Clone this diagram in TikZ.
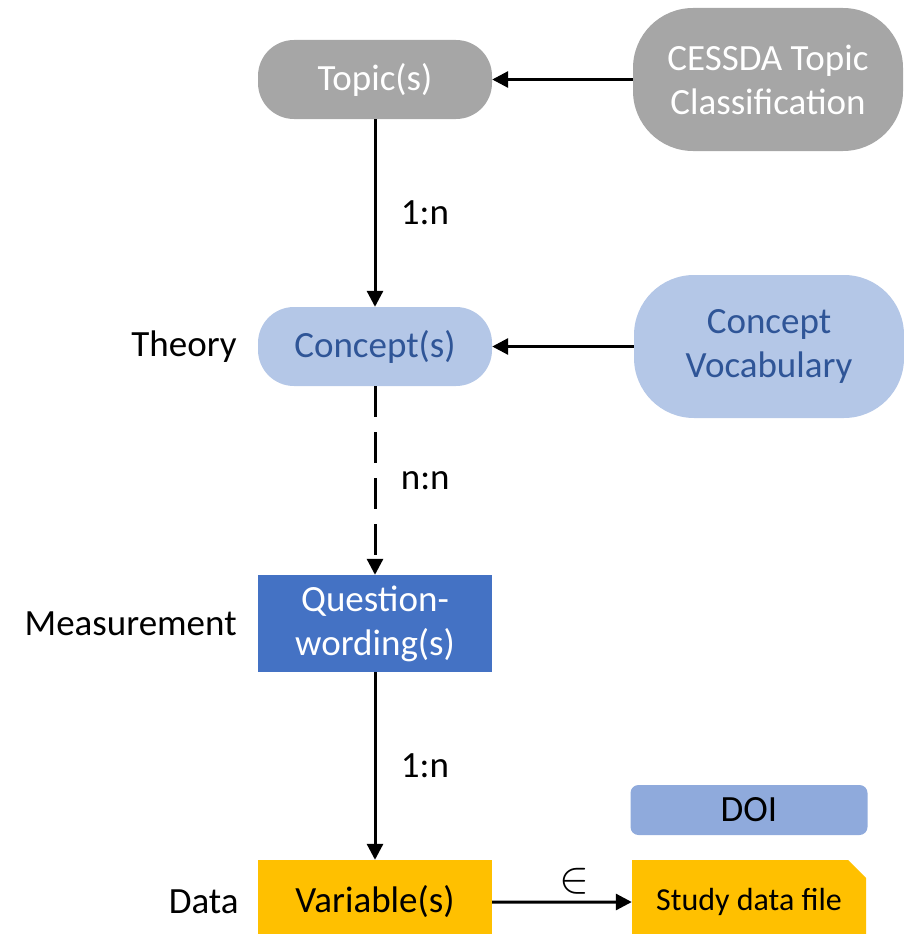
\documentclass[tikz,border=0pt]{standalone}
\usepackage{fontspec}
\setmainfont{Carlito}
\usetikzlibrary{shapes.misc,arrows.meta,positioning}
\definecolor{topicgray}{HTML}{A6A6A6}
\definecolor{conceptblue}{HTML}{B4C7E7}
\definecolor{conceptink}{HTML}{2F5597}
\definecolor{questionblue}{HTML}{4472C4}
\definecolor{varyellow}{HTML}{FFC000}
\definecolor{doiblue}{HTML}{8FAADC}
\tikzstyle{every node}=[font=\fontsize{37}{44}\selectfont]
\tikzstyle{pill} = [rectangle, rounded corners=36pt, minimum width=234pt,
    minimum height=79pt, text centered]
\tikzstyle{source} = [rectangle, rounded corners=60pt, minimum width=270pt,
    minimum height=143pt, align=center]
\tikzstyle{block} = [rectangle, minimum width=234pt, align=center]
\tikzstyle{line} = [draw, line width=3pt, -{Triangle[length=16pt,width=16pt]}]
\tikzstyle{level} = [inner sep=0pt]

\begin{document}
\begin{tikzpicture}[x=1pt, y=1pt, node distance=270pt]
	\clip (0,0) rectangle (904,-934);
	% Place nodes
	\node [pill, fill=topicgray, text=white] at (375,-79.5) (topic) {Topic(s)};
	\node [source, fill=topicgray, text=white, right of=topic, node distance=393pt] (cessda) {CESSDA Topic\\Classification};
	\node [pill, fill=conceptblue, text=conceptink, below of=topic, node distance=267pt] (concept) {Concept(s)};
	\node [source, fill=conceptblue, text=conceptink, right of=concept, node distance=394pt] (vocab) {Concept\\Vocabulary};
	\node [block, fill=questionblue, text=white, minimum height=97pt, below of=concept, node distance=277pt] (question) {Question-\\wording(s)};
	\node [block, fill=varyellow, minimum height=84pt, below of=question, node distance=278.5pt] (variable) {Variable(s)};
	\node [chamfered rectangle, chamfered rectangle corners=north east, chamfered rectangle sep=9pt,
	       fill=varyellow, minimum width=234pt, minimum height=84pt, font=\fontsize{32}{38}\selectfont,
	       right of=variable, node distance=374pt] (file) {Study data file};
	\node [rectangle, rounded corners=8pt, fill=doiblue, minimum width=237pt, minimum height=50pt,
	       above of=file, node distance=92pt] (doi) {DOI};

	% levels
	\node [level, left=21pt of concept] (theory) {Theory};
	\node [level, left=21pt of question] (measure) {Measurement};
	\node [level, left=19pt of variable] (data) {Data};

	% Draw edges
	\path [line] (cessda) -- (topic);
	\path [line] (vocab) -- (concept);
	\path [line] (topic) -- node [right=21pt] {1:n} (concept);
	\path [line, dash pattern=on 31pt off 15pt] (concept) -- node [right=21pt] {n:n} (question);
	\path [line] (question) -- node [right=21pt] {1:n} (variable);
	\path [line] (variable) -- node [above=3pt, xshift=12pt] {\scalebox{1.8}{$\in$}} (file);
\end{tikzpicture}
\end{document}
